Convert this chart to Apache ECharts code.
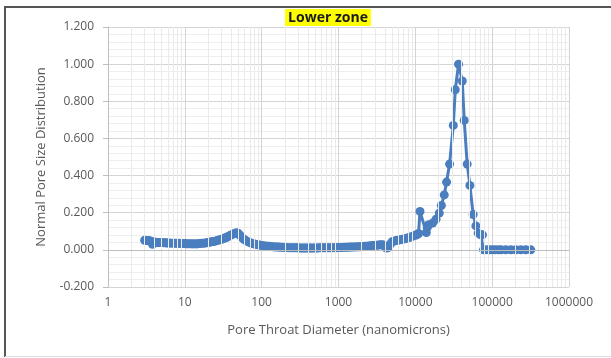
<!DOCTYPE html>
<html>
<head>
<meta charset="utf-8">
<script src="https://cdn.jsdelivr.net/npm/echarts@6/dist/echarts.min.js"></script>
<style>
  html, body { margin: 0; padding: 0; background: #fff; }
  #chart { width: 611px; height: 358px; }
</style>
</head>
<body>
<div id="chart"></div>
<script>
// Pore throat diameter (nm) and normalised distribution value
const diameters = [
  3.0, 3.1, 3.2, 3.3, 3.4, 3.5, 3.6, 3.7, 3.8, 3.9, 4.0, 4.2, 4.4, 4.6, 4.8, 5.0, 5.3, 5.6, 5.9, 6.2,
  6.6, 7.0, 7.4, 7.8, 8.3, 8.8, 9.3, 9.9, 10.5, 11.1, 11.8, 12.5, 13.2, 14.0, 14.8, 15.7, 16.6, 17.6, 18.6, 19.7,
  20.9, 22.1, 23.4, 24.8, 26.3, 27.8, 29.5, 31.2, 33.1, 35.0, 37.1, 39.3, 41.6, 44.1, 46.7, 49.4, 52.3, 55.4, 58.7, 62.2,
  65.9, 69.8, 73.9, 78.3, 83.0, 88, 93, 99, 105, 111, 118, 125, 132, 140, 148, 157, 166, 176, 187, 198,
  210, 222, 235, 249, 264, 280, 296, 314, 332, 352, 373, 395, 419, 443, 470, 498, 527, 558, 591, 626,
  663, 703, 744, 788, 835, 885, 937, 993, 1052, 1114, 1180, 1250, 1325, 1403, 1486, 1575, 1668, 1767, 1872, 1983,
  2101, 2226, 2358, 2498, 2646, 2803, 2970, 3146, 3333, 3531, 3741, 3963, 4198, 4448, 4712, 4992, 5289, 5603, 5935, 6288,
  6661, 7057, 7476, 7920, 8391, 8889, 9417, 9977, 10570, 11000, 11500, 13900, 14300, 14900, 16800, 18600, 20500, 21800, 23800, 25500,
  27900, 31200, 33100, 36500, 40800, 43300, 47300, 51300, 56600, 61400, 65800, 71000, 74800, 77100, 83600, 91400, 100000, 109000, 120000, 131000,
  150600, 175000, 203000, 236000, 274000, 318000
];
const distribution = [
  0.052, 0.051, 0.050, 0.050, 0.049, 0.048, 0.047, 0.045, 0.030, 0.038, 0.042, 0.041, 0.040, 0.040, 0.039, 0.039, 0.038, 0.038, 0.037, 0.037,
  0.036, 0.036, 0.035, 0.035, 0.035, 0.034, 0.034, 0.034, 0.033, 0.033, 0.033, 0.032, 0.033, 0.032, 0.033, 0.034, 0.035, 0.036, 0.037, 0.039,
  0.041, 0.043, 0.045, 0.047, 0.050, 0.053, 0.056, 0.060, 0.064, 0.068, 0.073, 0.078, 0.083, 0.088, 0.092, 0.090, 0.078, 0.066, 0.057, 0.050,
  0.044, 0.040, 0.036, 0.033, 0.030, 0.028, 0.026, 0.024, 0.022, 0.021, 0.020, 0.019, 0.018, 0.017, 0.016, 0.015, 0.015, 0.014, 0.014, 0.013,
  0.013, 0.012, 0.012, 0.012, 0.011, 0.011, 0.011, 0.010, 0.010, 0.010, 0.010, 0.010, 0.010, 0.010, 0.010, 0.010, 0.010, 0.011, 0.011, 0.011,
  0.011, 0.011, 0.011, 0.012, 0.012, 0.012, 0.012, 0.013, 0.013, 0.013, 0.014, 0.014, 0.014, 0.015, 0.015, 0.016, 0.016, 0.017, 0.017, 0.018,
  0.018, 0.019, 0.020, 0.021, 0.022, 0.023, 0.024, 0.025, 0.026, 0.027, 0.028, 0.020, 0.010, 0.012, 0.030, 0.044, 0.047, 0.050, 0.052, 0.054,
  0.056, 0.058, 0.061, 0.064, 0.067, 0.071, 0.075, 0.078, 0.082, 0.088, 0.207, 0.093, 0.120, 0.135, 0.144, 0.165, 0.198, 0.239, 0.296, 0.365,
  0.462, 0.670, 0.862, 1.000, 0.909, 0.697, 0.462, 0.347, 0.190, 0.129, 0.090, 0.081, 0.081, 0.000, 0.000, 0.000, 0.000, 0.000, 0.000, 0.000,
  0.000, 0.000, 0.000, 0.000, 0.000, 0.000
];

// Tick labels
const xTickLabels = ['1', '10', '100', '1000', '10000', '100000', '1000000'];
const yTickLabels = ['-0.200', '0.000', '0.200', '0.400', '0.600', '0.800', '1.000', '1.200'];

// Minor log gridlines at 2..9 within each decade
const minorX = [];
for (let d = 1; d <= 100000; d *= 10) {
  for (let m = 2; m <= 9; m++) minorX.push(m * d);
}

const textColor = '#595959';
const fontFamily = '"Open Sans", "Liberation Sans", sans-serif';

const chart = echarts.init(document.getElementById('chart'), null, { renderer: 'canvas' });

chart.setOption({
  animation: false,
  backgroundColor: '#ffffff',
  title: {
    text: 'Lower zone',
    left: 325,
    textAlign: 'center',
    top: 9,
    backgroundColor: '#ffff00',
    padding: [2, 3, 1, 3],
    textStyle: { fontFamily: fontFamily, fontWeight: 'bold', fontSize: 14, color: '#1a1a1a' }
  },
  grid: { left: 108, right: 42, top: 27, bottom: 71, containLabel: false },
  xAxis: {
    type: 'log',
    logBase: 10,
    min: 1,
    max: 1000000,
    name: 'Pore Throat Diameter (nanomicrons)',
    nameLocation: 'middle',
    nameGap: 37,
    nameTextStyle: { color: textColor, fontFamily: fontFamily, fontSize: 13 },
    axisLine: { show: false, onZero: false },
    axisTick: { show: false },
    axisLabel: {
      color: textColor, fontFamily: fontFamily, fontSize: 12, margin: 10,
      formatter: function (v) {
        const i = Math.round(Math.log10(v));
        return xTickLabels[i] !== undefined ? xTickLabels[i] : '';
      }
    },
    splitLine: { show: true, lineStyle: { color: '#d4d4d4', width: 1 } }
  },
  yAxis: {
    type: 'value',
    min: -0.2,
    max: 1.2,
    interval: 0.2,
    name: 'Normal Pore Size Distribution',
    nameLocation: 'middle',
    nameGap: 60,
    nameTextStyle: { color: textColor, fontFamily: fontFamily, fontSize: 13 },
    axisLine: { show: true, lineStyle: { color: '#bfbfbf', width: 1 } },
    axisTick: { show: true, length: 5, lineStyle: { color: '#bfbfbf' } },
    axisLabel: {
      color: textColor, fontFamily: fontFamily, fontSize: 12, margin: 14,
      formatter: function (v) {
        const i = Math.round((v + 0.2) / 0.2);
        return yTickLabels[i] !== undefined ? yTickLabels[i] : '';
      }
    },
    splitLine: { show: true, lineStyle: { color: '#d4d4d4', width: 1 } },
    minorTick: { show: false, splitNumber: 5 },
    minorSplitLine: { show: true, lineStyle: { color: '#eeeeee', width: 1 } }
  },
  series: [
    {
      // light gridlines at the in-between decade values
      type: 'line',
      data: [],
      silent: true,
      z: 1,
      markLine: {
        silent: true,
        symbol: ['none', 'none'],
        label: { show: false },
        lineStyle: { color: '#eaeaea', width: 1, type: 'solid' },
        data: minorX.map(v => ({ xAxis: v }))
      }
    },
    {
      // zero baseline
      type: 'line',
      data: [],
      silent: true,
      z: 1,
      markLine: {
        silent: true,
        symbol: ['none', 'none'],
        label: { show: false },
        lineStyle: { color: '#bdbdbd', width: 1, type: 'solid' },
        data: [{ yAxis: 0 }]
      }
    },
    {
      name: 'Normal Pore Size Distribution',
      type: 'line',
      z: 3,
      data: diameters.map((d, i) => [d, distribution[i]]),
      symbol: 'circle',
      symbolSize: 9,
      showSymbol: true,
      showAllSymbol: true,
      lineStyle: { color: '#4a7ebf', width: 3 },
      itemStyle: { color: '#4a7ebf' }
    }
  ],
  graphic: [
    // chart frame: dark on the left and top, faint along the bottom
    {
      type: 'polyline',
      silent: true,
      shape: { points: [[5, 357], [5, 7], [611, 7]] },
      style: { fill: 'none', stroke: '#555555', lineWidth: 2 }
    },
    {
      type: 'line',
      silent: true,
      shape: { x1: 5, y1: 356.5, x2: 611, y2: 356.5 },
      style: { stroke: '#dddddd', lineWidth: 1 }
    }
  ]
});
</script>
</body>
</html>
